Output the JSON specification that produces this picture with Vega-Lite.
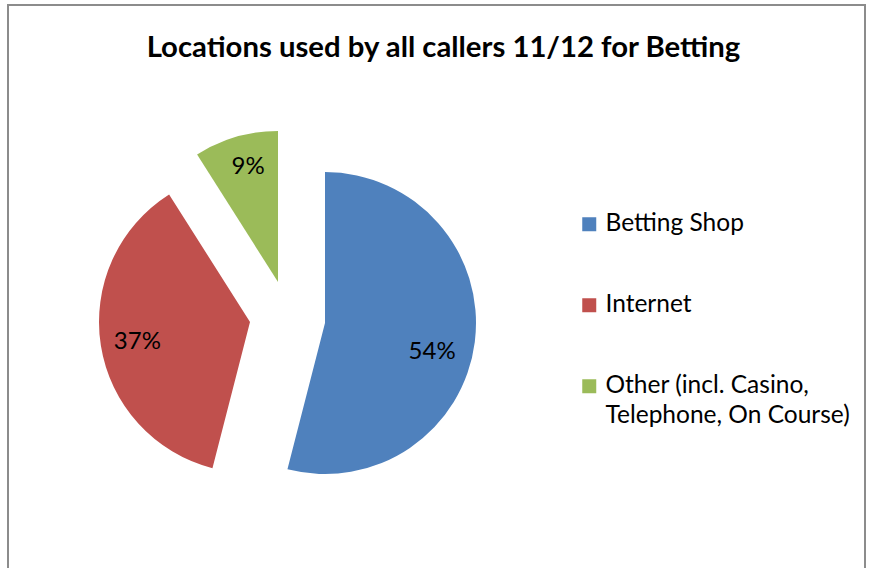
{
  "$schema": "https://vega.github.io/schema/vega-lite/v6.json",
  "width": 857,
  "height": 566,
  "autosize": {"type": "none"},
  "padding": {"left": 8, "top": 5, "right": 5, "bottom": 0},
  "background": "white",
  "view": {"stroke": "#8c8c8c", "strokeWidth": 2, "fill": "white"},
  "title": {
    "text": "Locations used by all callers 11/12 for Betting",
    "font": "Lato",
    "fontSize": 29.3,
    "fontWeight": "bold",
    "color": "#000000",
    "anchor": "middle",
    "offset": -58,
    "dx": 7
  },
  "config": {
    "view": {"stroke": "#8c8c8c", "strokeWidth": 2},
    "font": "Lato",
    "style": {"guide-label": {"lineHeight": 30}}
  },
  "data": {
    "values": [
      {"location": "Betting Shop", "share": 54},
      {"location": "Internet", "share": 37},
      {"location": "Other (incl. Casino, Telephone, On Course)", "share": 9}
    ]
  },
  "transform": [
    {"stack": "share", "groupby": [], "sort": [{"field": "share", "order": "descending"}], "as": ["v0", "v1"]},
    {"calculate": "(datum.v0 + datum.v1) / 2", "as": "mid"},
    {"calculate": "datum.share + '%'", "as": "pct"}
  ],
  "layer": [
    {
      "transform": [{"filter": "datum.location == 'Betting Shop'"}],
      "mark": {"type": "arc", "outerRadius": 151, "xOffset": -111.5, "yOffset": 35},
      "encoding": {
        "theta": {"field": "v0", "type": "quantitative", "scale": {"domain": [0, 100]}, "stack": null},
        "theta2": {"field": "v1"},
        "color": {
          "field": "location", "type": "nominal",
          "scale": {"domain": ["Betting Shop", "Internet", "Other (incl. Casino, Telephone, On Course)"], "range": ["#4F81BD", "#C0504D", "#9BBB59"]},
          "legend": {
            "orient": "none", "legendX": 569, "legendY": 207, "title": null,
            "symbolType": "square", "symbolSize": 196, "symbolStrokeWidth": 0,
            "labelFontSize": 24.5, "labelFont": "Lato", "labelColor": "#000000", "labelLimit": 400,
            "rowPadding": 56,
            "labelExpr": "datum.label == 'Other (incl. Casino, Telephone, On Course)' ? ['Other (incl. Casino,', 'Telephone, On Course)'] : datum.label"
          }
        }
      }
    },
    {
      "transform": [{"filter": "datum.location == 'Internet'"}],
      "mark": {"type": "arc", "outerRadius": 151, "xOffset": -186.5, "yOffset": 34},
      "encoding": {
        "theta": {"field": "v0", "type": "quantitative", "scale": {"domain": [0, 100]}, "stack": null},
        "theta2": {"field": "v1"},
        "color": {"field": "location", "type": "nominal"}
      }
    },
    {
      "transform": [{"filter": "datum.location == 'Other (incl. Casino, Telephone, On Course)'"}],
      "mark": {"type": "arc", "outerRadius": 151, "xOffset": -158.5, "yOffset": -6},
      "encoding": {
        "theta": {"field": "v0", "type": "quantitative", "scale": {"domain": [0, 100]}, "stack": null},
        "theta2": {"field": "v1"},
        "color": {"field": "location", "type": "nominal"}
      }
    },
    {
      "transform": [{"filter": "datum.location == 'Betting Shop'"}],
      "mark": {"type": "text", "radius": 114, "xOffset": -111.5, "yOffset": 35, "dx": -6, "dy": 15, "fontSize": 24, "font": "Lato", "color": "#000000"},
      "encoding": {
        "theta": {"field": "mid", "type": "quantitative", "scale": {"domain": [0, 100]}, "stack": null},
        "text": {"field": "pct"}
      }
    },
    {
      "transform": [{"filter": "datum.location == 'Internet'"}],
      "mark": {"type": "text", "radius": 114, "xOffset": -186.5, "yOffset": 34, "dy": 2, "fontSize": 24, "font": "Lato", "color": "#000000"},
      "encoding": {
        "theta": {"field": "mid", "type": "quantitative", "scale": {"domain": [0, 100]}, "stack": null},
        "text": {"field": "pct"}
      }
    },
    {
      "transform": [{"filter": "datum.location == 'Other (incl. Casino, Telephone, On Course)'"}],
      "mark": {"type": "text", "radius": 114, "xOffset": -158.5, "yOffset": -6, "dx": 2, "dy": -6, "fontSize": 24, "font": "Lato", "color": "#000000"},
      "encoding": {
        "theta": {"field": "mid", "type": "quantitative", "scale": {"domain": [0, 100]}, "stack": null},
        "text": {"field": "pct"}
      }
    }
  ]
}
